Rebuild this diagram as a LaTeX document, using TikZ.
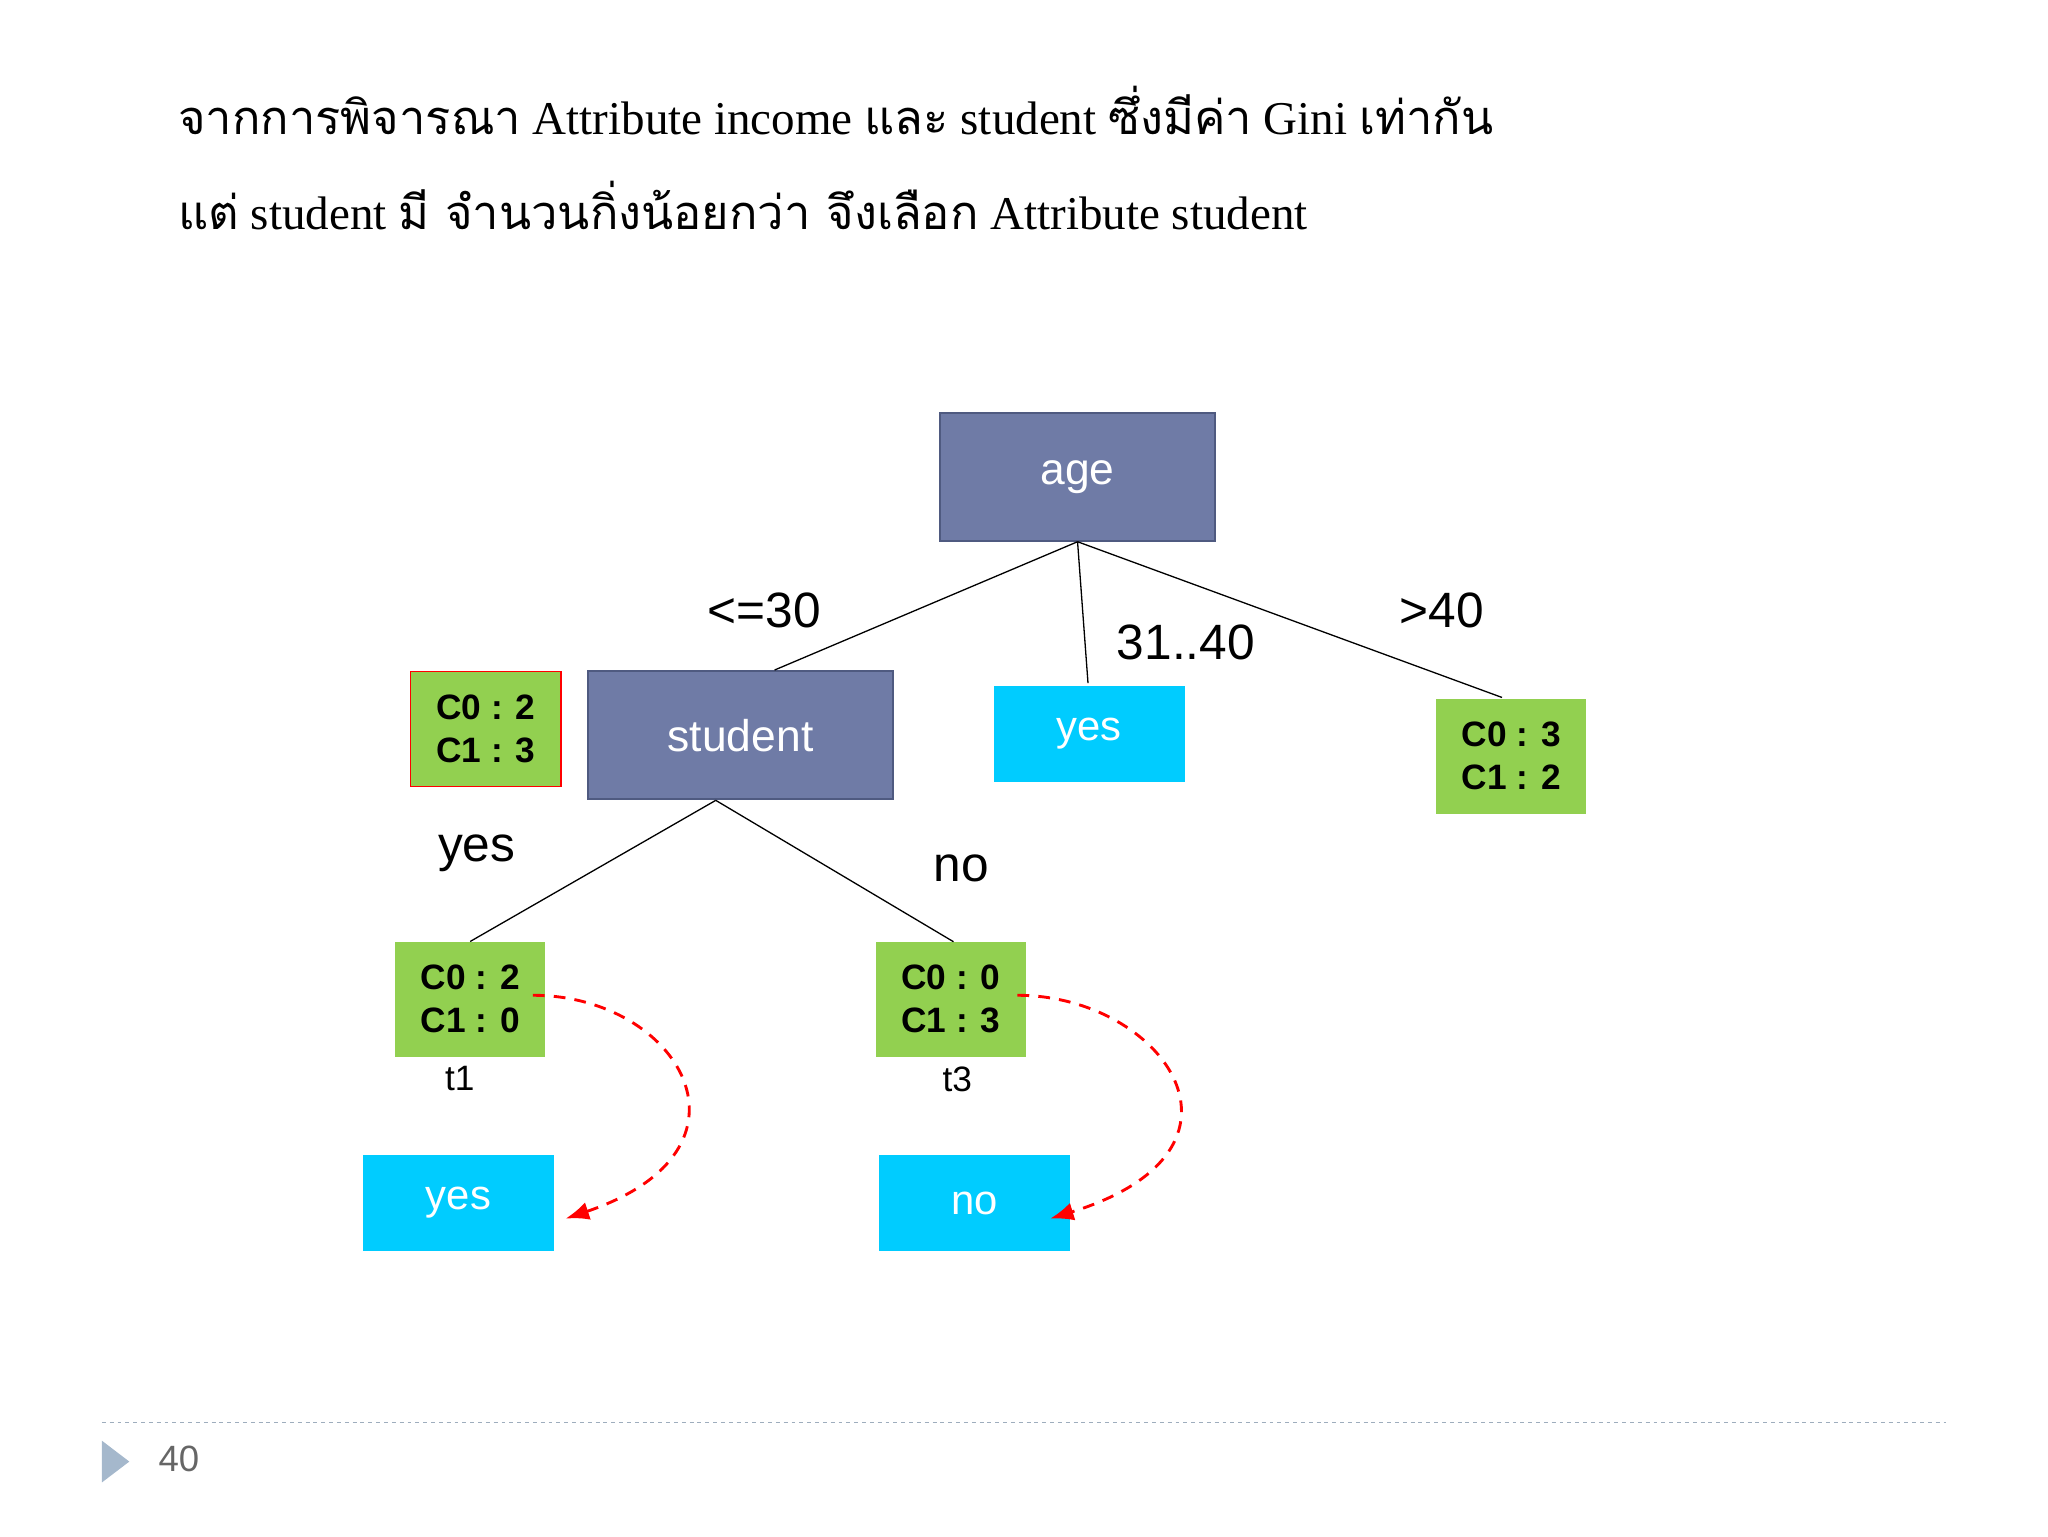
\documentclass[tikz,border=0pt]{standalone}
\usepackage{fontspec}
\setmainfont{Liberation Serif}
\setsansfont{Liberation Sans}
\newfontfamily\thaifont[Script=Thai]{Loma}
\usetikzlibrary{arrows.meta}
\definecolor{slate}{HTML}{6F7BA6}
\definecolor{slateb}{HTML}{4F5A80}
\definecolor{cyanb}{HTML}{00CCFF}
\definecolor{grn}{HTML}{92D050}
\definecolor{foot}{HTML}{A5B8CC}
\begin{document}
\begin{tikzpicture}[x=1pt,y=-1pt,
  inner node/.style={draw=slateb,line width=1.5pt,fill=slate,text=white,font=\sffamily\fontsize{34}{34}\selectfont,minimum width=#1},
  leaf/.style={fill=cyanb,text=white,font=\sffamily\fontsize{32}{32}\selectfont,minimum width=146pt,minimum height=74pt},
  cnt/.style={fill=grn,font=\sffamily\bfseries\fontsize{27}{33}\selectfont,align=center,minimum width=115pt,minimum height=88pt},
  lab/.style={font=\sffamily\fontsize{38}{38}\selectfont},
  tl/.style={font=\sffamily\fontsize{27}{27}\selectfont},
  edge/.style={line width=1pt},
  dsh/.style={red,dashed,line width=2.2pt,dash pattern=on 9pt off 7pt,-{Latex[length=18pt,width=14pt]}}]
\useasboundingbox (0,0) rectangle (1568,1176);
\node[anchor=base west,font=\fontsize{36}{36}\selectfont] (t1) at (133,103) {{\thaifont จากการพิจารณา} Attribute income {\thaifont และ} student {\thaifont ซึ่งมีค่า} Gini {\thaifont เท่ากัน}};
\node[anchor=base west,font=\fontsize{36}{36}\selectfont] (t2) at (133,176) {{\thaifont แต่} student {\thaifont มี จำนวนกิ่งน้อยกว่า จึงเลือก} Attribute student};
\node[inner node=210pt,minimum height=98pt] (age) at (825,365) {age};
\node[inner node=234pt,minimum height=98pt] (stu) at (567,563) {student};
\node[leaf] (y1) at (834,562) {yes};
\node[cnt] (g40) at (1157,579) {C0 : 3\\C1 : 2};
\node[cnt,draw=red,line width=1pt] (gr) at (372,558) {C0 : 2\\C1 : 3};
\node[cnt] (gy) at (360,765) {C0 : 2\\C1 : 0};
\node[cnt] (gn) at (728,765) {C0 : 0\\C1 : 3};
\node[leaf] (ly) at (351,921) {yes};
\node[leaf] (ln) at (746,921) {no};
\draw[edge] (age.south) -- (593,513) coordinate (e1);
\draw[edge] (age.south) -- (833,523);
\draw[edge] (age.south) -- (1150,534);
\draw[edge] (stu.south -| 548,0) -- (gy.north);
\draw[edge] (stu.south -| 548,0) -- (730,721);
\node[lab] (l1) at (585,467) {<=30};
\node[lab] (l2) at (908,492) {31..40};
\node[lab] (l3) at (1104,467) {>40};
\node[lab] (l4) at (365,653) {yes};
\node[lab] (l5) at (736,665) {no};
\node[tl] (tt1) at (352,826) {t1};
\node[tl] (tt3) at (733,826) {t3};
\draw[dsh] (408,762) .. controls (520,762) and (590,880) .. (433,933);
\draw[dsh] (779,762) .. controls (890,762) and (975,880) .. (804,933);
\draw[foot!80!gray,dashed,line width=1pt] (78,1089) -- (1490,1089);
\fill[foot] (78,1103) -- (99,1119) -- (78,1135) -- cycle;
\node[font=\sffamily\fontsize{28}{28}\selectfont,text=gray!80!black] (pg) at (137,1117) {40};
\end{tikzpicture}
\end{document}
